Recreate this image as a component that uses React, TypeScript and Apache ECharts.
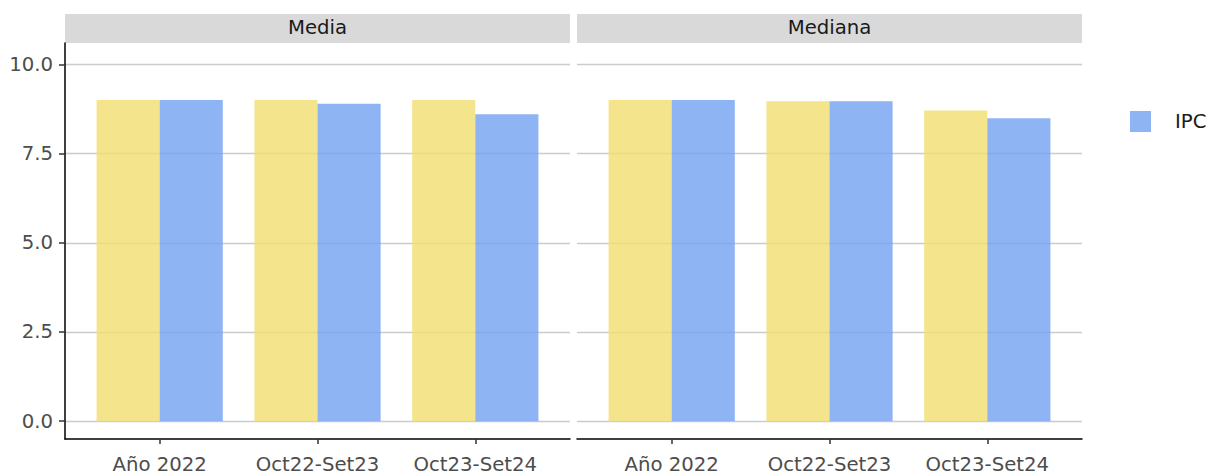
import React, { useEffect, useRef } from "react";
import * as echarts from "echarts";

const categories = ["Año 2022", "Oct22-Set23", "Oct23-Set24"];
const panels = ["Media", "Mediana"];
const mediaRef = [9.0, 9.0, 9.0];
const mediaIPC = [9.0, 8.9, 8.6];
const medianaRef = [9.0, 8.97, 8.71];
const medianaIPC = [9.0, 8.97, 8.49];
const yTicks = [0, 2.5, 5, 7.5, 10];
const xTicks = [0, 1, 2];

const FONT = "DejaVu Sans";
const YELLOW = "#f1df71";
const BLUE = "#73a1f1";
const FS = 19.7;

export default function App() {
  const ref = useRef<HTMLDivElement>(null);
  useEffect(() => {
    if (!ref.current) return;
    const chart = echarts.init(ref.current, undefined, { renderer: "svg" });
    const gridW = 505;
    const lefts = [65, 577];
    const toPts = (arr: number[]) => arr.map((v, i) => [xTicks[i], v]);
    const xAxis = lefts.map((_, i) => ({
      type: "value" as const,
      gridIndex: i,
      min: -0.6,
      max: 2.6,
      axisLine: { show: true, onZero: false, lineStyle: { color: "#000", width: 1.5 } },
      axisTick: { show: true, customValues: xTicks, length: 5, lineStyle: { color: "#333", width: 1.5 } },
      axisLabel: {
        show: true,
        customValues: xTicks,
        formatter: (v: number) => categories[Math.round(v)] ?? "",
        fontFamily: FONT,
        fontSize: FS,
        color: "#4d4d4d",
        margin: 15,
      },
      splitLine: { show: false },
    }));
    const yAxis = lefts.map((_, i) => ({
      type: "value" as const,
      gridIndex: i,
      min: -0.5,
      max: 10.6,
      axisLine: { show: i === 0, onZero: false, lineStyle: { color: "#000", width: 1.5 } },
      axisTick: { show: i === 0, customValues: yTicks, length: 6, lineStyle: { color: "#333", width: 1.5 } },
      axisLabel: {
        show: i === 0,
        customValues: yTicks,
        formatter: (v: number) => v.toFixed(1),
        fontFamily: FONT,
        fontSize: FS,
        color: "#4d4d4d",
        margin: 12,
      },
      splitLine: { show: true, lineStyle: { color: "#cccccc", width: 1.3 } },
    }));
    const mkBar = (name: string, data: number[], idx: number, color: string) => ({
      type: "bar" as const,
      name,
      xAxisIndex: idx,
      yAxisIndex: idx,
      data: toPts(data),
      barCategoryGap: "20%",
      barGap: "0%",
      itemStyle: { color, opacity: 0.8 },
      emphasis: { disabled: true },
    });
    const graphic: any[] = [];
    lefts.forEach((l, i) => {
      graphic.push({
        type: "rect",
        shape: { x: l, y: 14, width: gridW, height: 29 },
        style: { fill: "#d9d9d9" },
        silent: true,
      });
      graphic.push({
        type: "text",
        x: l + gridW / 2,
        y: 27,
        style: {
          text: panels[i],
          fontFamily: FONT,
          fontSize: FS,
          fill: "#1a1a1a",
          align: "center",
          verticalAlign: "middle",
        },
        silent: true,
      });
    });
    chart.setOption({
      animation: false,
      grid: lefts.map((l) => ({ left: l, top: 43, width: gridW, height: 396, containLabel: false })),
      xAxis,
      yAxis,
      legend: {
        data: ["IPC"],
        left: 1130,
        top: 111,
        padding: 0,
        orient: "vertical",
        icon: "rect",
        itemWidth: 21,
        itemHeight: 21,
        textStyle: { fontFamily: FONT, fontSize: FS, color: "#1a1a1a", padding: [0, 0, 0, 19] },
        selectedMode: false,
      },
      graphic,
      series: [
        mkBar("Referencia", mediaRef, 0, YELLOW),
        mkBar("IPC", mediaIPC, 0, BLUE),
        mkBar("Referencia", medianaRef, 1, YELLOW),
        mkBar("IPC", medianaIPC, 1, BLUE),
      ],
    });
    return () => chart.dispose();
  }, []);
  return (
    <div
      ref={ref}
      style={{ position: "absolute", left: 0, top: 0, width: 1212, height: 475 }}
    />
  );
}
